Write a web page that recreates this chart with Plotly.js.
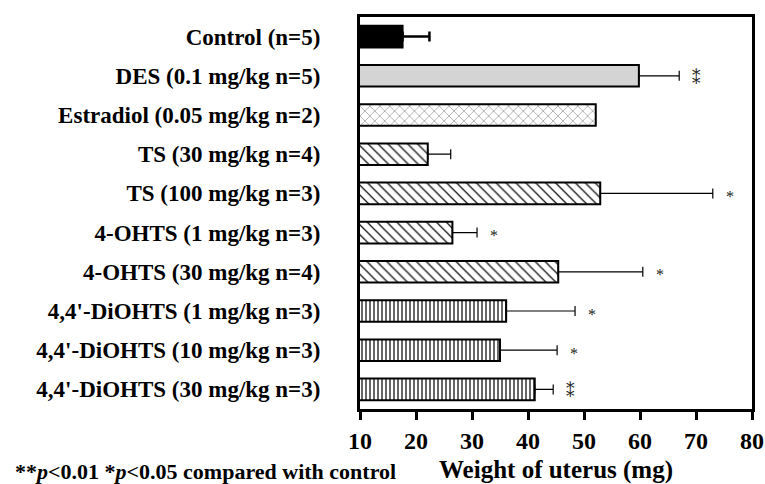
<!DOCTYPE html>
<html>
<head>
<meta charset="utf-8">
<script src="https://cdn.plot.ly/plotly-3.0.1.min.js"></script>
<style>html,body{margin:0;padding:0;background:#fff;}#chart{width:765px;height:484px;}</style>
</head>
<body>
<div id="chart"></div>
<script>
const categories = [
  "Control (n=5)",
  "DES (0.1 mg/kg n=5)",
  "Estradiol (0.05 mg/kg n=2)",
  "TS (30 mg/kg n=4)",
  "TS (100 mg/kg n=3)",
  "4-OHTS (1 mg/kg n=3)",
  "4-OHTS (30 mg/kg n=4)",
  "4,4'-DiOHTS (1 mg/kg n=3)",
  "4,4'-DiOHTS (10 mg/kg n=3)",
  "4,4'-DiOHTS (30 mg/kg n=3)"
];
const meanWeight = [17.6, 59.8, 52.1, 22.1, 52.9, 26.5, 45.4, 36.1, 35.0, 41.2];
const errWeight  = [4.8, 7.2, null, 4.1, 20.1, 4.4, 15.1, 12.3, 10.2, 3.3];
const starCount  = [0, 2, 0, 0, 1, 1, 1, 1, 1, 2];
const tickVals = [10, 20, 30, 40, 50, 60, 70, 80];

const fills  = ["#000000", "#d4d4d4", "#ffffff", "#ffffff", "#ffffff", "#ffffff", "#ffffff", "#ffffff", "#ffffff", "#ffffff"];
const shapes = ["", "", "x", "\\", "\\", "\\", "\\", "|", "|", "|"];
const psizes = [8, 8, 7, 7, 7, 7, 7, 4, 4, 4];
const psolid = [0, 0, 0.12, 0.18, 0.18, 0.18, 0.18, 0.3, 0.3, 0.3];
const pcolor = ["#000", "#000", "#555", "#111", "#111", "#111", "#111", "#000", "#000", "#000"];

const serif = "Liberation Serif, Times New Roman, serif";

const data = categories.map((cat, i) => {
  const t = {
    type: "bar",
    orientation: "h",
    y: [cat],
    x: [meanWeight[i]],
    width: 0.55,
    marker: {
      color: fills[i],
      line: {color: "#000", width: 2}
    },
    hoverinfo: "skip",
    showlegend: false
  };
  if (shapes[i]) {
    t.marker.pattern = {shape: shapes[i], size: psizes[i], solidity: psolid[i], fgcolor: pcolor[i]};
  }
  if (errWeight[i] !== null) {
    t.error_x = {
      type: "data", symmetric: false,
      array: [errWeight[i]], arrayminus: [0],
      color: "#000", thickness: i === 0 ? 2.5 : 1.2, width: 5
    };
  }
  return t;
});

const annotations = [];
categories.forEach((cat, i) => {
  const n = starCount[i];
  if (n === 0) return;
  annotations.push({
    xref: "x", yref: "y",
    x: meanWeight[i] + (errWeight[i] || 0) + 3,
    y: cat,
    text: n === 2 ? "\u2051" : "*",
    showarrow: false,
    xanchor: "center", yanchor: "middle",
    yshift: n === 2 ? -2 : -3,
    font: {family: n === 2 ? "DejaVu Serif, DejaVu Sans, serif" : serif, size: n === 2 ? 17 : 16, color: "#222"}
  });
});
annotations.push({
  xref: "paper", yref: "paper",
  x: -0.885, y: -0.16,
  xanchor: "left", yanchor: "middle",
  showarrow: false,
  text: "<b>**<i>p</i>&lt;0.01 *<i>p</i>&lt;0.05 compared with control</b>",
  font: {family: serif, size: 22, color: "#000"}
});

const layout = {
  width: 765,
  height: 484,
  margin: {l: 360, r: 13, t: 17, b: 75},
  paper_bgcolor: "#fff",
  plot_bgcolor: "#fff",
  barmode: "overlay",
  font: {family: serif, color: "#000"},
  xaxis: {
    range: [10, 80],
    tickvals: tickVals,
    ticktext: tickVals.map(String),
    showgrid: false,
    zeroline: false,
    showline: true,
    mirror: true,
    linewidth: 3,
    linecolor: "#000",
    ticks: "outside",
    ticklen: 8,
    tickwidth: 2.5,
    tickcolor: "#000",
    tickfont: {family: serif, size: 24, weight: "bold", color: "#000"},
    title: {text: "Weight of uterus (mg)", font: {family: serif, size: 25, weight: "bold", color: "#000"}, standoff: 8},
    fixedrange: true
  },
  yaxis: {
    type: "category",
    categoryorder: "array",
    categoryarray: categories,
    autorange: "reversed",
    showgrid: false,
    zeroline: false,
    showline: true,
    mirror: true,
    linewidth: 3,
    linecolor: "#000",
    ticks: "",
    ticklabelstandoff: 32,
    tickfont: {family: serif, size: 23, weight: "bold", color: "#000"},
    fixedrange: true
  },
  annotations: annotations
};

Plotly.newPlot("chart", data, layout, {displayModeBar: false});
</script>
</body>
</html>
